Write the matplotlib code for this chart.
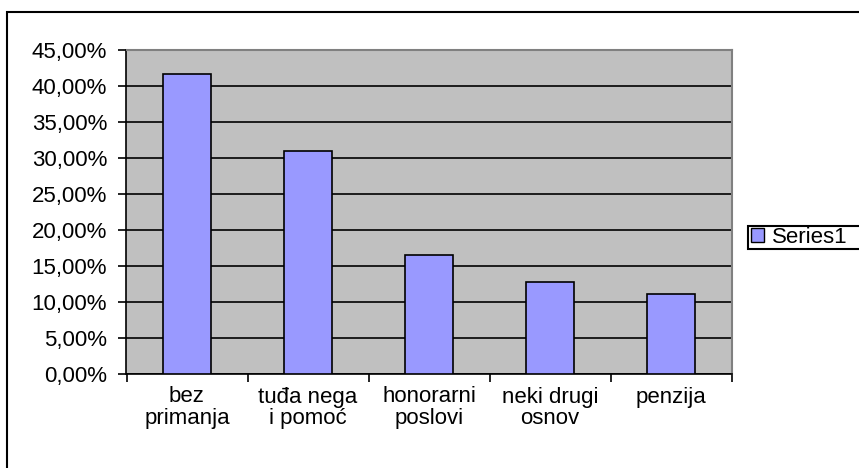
import matplotlib
matplotlib.use('Agg')
import matplotlib.pyplot as plt
from matplotlib.patches import Rectangle, Patch

categories = ['bez\nprimanja', 'tuđa nega\ni pomoć', 'honorarni\nposlovi',
              'neki drugi\nosnov', 'penzija']
values = [41.7, 31.0, 16.5, 12.8, 11.1]
yticks = [0, 5, 10, 15, 20, 25, 30, 35, 40, 45]
ytick_labels = ['%.2f%%' % t for t in yticks]
ytick_labels = [s.replace('.', ',') for s in ytick_labels]
series_name = 'Series1'

plt.rcParams['font.family'] = ['Liberation Sans', 'DejaVu Sans']
plt.rcParams['font.size'] = 16

W, H = 859, 468
fig = plt.figure(figsize=(W / 100, H / 100), dpi=100)

# outer chart frame (cut off at right and bottom)
fig.add_artist(Rectangle((7 / W, -0.2), 1.2, 1.2 - 12 / H, transform=fig.transFigure,
                         fill=False, edgecolor='black', linewidth=1.5))

ax = fig.add_axes([126.5 / W, 1 - 374 / H, 605 / W, 324 / H])
ax.set_facecolor('#C0C0C0')

x = list(range(len(values)))
ax.bar(x, values, width=0.4, color='#9999FF', edgecolor='black', linewidth=1.2, zorder=3)

ax.set_xlim(-0.5, len(values) - 0.5)
ax.set_ylim(0, 45)
ax.set_yticks(yticks)
ax.set_yticklabels(ytick_labels)
ax.yaxis.grid(True, color='black', linewidth=1.2, zorder=1)
ax.set_axisbelow(True)

ax.set_xticks(x)
ax.set_xticklabels(categories, linespacing=1.05)
ax.set_xticks([i - 0.5 for i in range(len(values) + 1)], minor=True)
ax.tick_params(axis='x', which='major', length=0, pad=9)
ax.tick_params(axis='x', which='minor', length=6, width=1.2, direction='out')
ax.tick_params(axis='y', length=6, width=1.2, direction='out', pad=8)

for side in ['left', 'bottom']:
    ax.spines[side].set_color('black')
    ax.spines[side].set_linewidth(1.2)
for side in ['top', 'right']:
    ax.spines[side].set_color('#808080')
    ax.spines[side].set_linewidth(1.5)

# legend box runs off the right edge in the original
fig.add_artist(Rectangle((748 / W, 1 - 249 / H), 0.2, 23 / H, transform=fig.transFigure,
                         facecolor='white', edgecolor='black', linewidth=1.5))
handle = Patch(facecolor='#9999FF', edgecolor='black', linewidth=1)
leg = fig.legend([handle], [series_name], loc='center left',
                 bbox_to_anchor=(748 / W, 1 - 237.5 / H), bbox_transform=fig.transFigure,
                 frameon=False, handlelength=0.55, handleheight=0.55, handletextpad=0.4,
                 borderpad=0.15, borderaxespad=0)

fig.savefig('out.png', dpi=100)
